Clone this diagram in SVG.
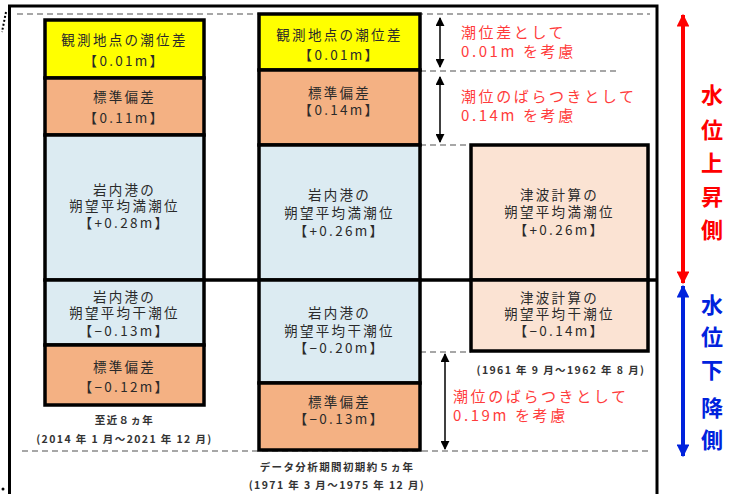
<svg xmlns="http://www.w3.org/2000/svg" width="731" height="494" viewBox="0 0 731 494">
<style>
.box{stroke:#000;stroke-width:3.5}
.y{fill:#ffff00}.o{fill:#f4b183}.b{fill:#dcebf2}.p{fill:#fbe3d3}
.t{font-family:"Noto Sans CJK JP","Noto Sans",sans-serif;font-size:13.5px;letter-spacing:2.3px;fill:#2a2a2a;text-anchor:middle}
.c{font-family:"Noto Sans CJK JP","Noto Sans",sans-serif;font-size:10.5px;letter-spacing:1.4px;fill:#333;text-anchor:middle;font-weight:bold}
.r{font-family:"Noto Sans CJK JP","Noto Sans",sans-serif;font-size:15px;letter-spacing:2.6px;fill:#ff3b3b}
.v{font-family:"Noto Sans CJK JP","Noto Sans",sans-serif;font-size:22px;font-weight:bold;text-anchor:middle}
.d{stroke:#8a8a8a;stroke-width:1.5;stroke-dasharray:6 4;fill:none}
.a{stroke:#000;stroke-width:1.5;fill:none}
</style>
<defs>
<marker id="ah" viewBox="0 0 10 10" refX="9" refY="5" markerWidth="9" markerHeight="9" markerUnits="userSpaceOnUse" orient="auto-start-reverse"><path d="M0,0L10,5L0,10Z" fill="#000"/></marker>
<marker id="ahr" viewBox="0 0 10 10" refX="9" refY="5" markerWidth="3.5" markerHeight="3.2" orient="auto-start-reverse"><path d="M0,0L10,5L0,10Z" fill="#ff0000"/></marker>
<marker id="ahb" viewBox="0 0 10 10" refX="9" refY="5" markerWidth="3.5" markerHeight="3.2" orient="auto-start-reverse"><path d="M0,0L10,5L0,10Z" fill="#0022dd"/></marker>
</defs>
<rect width="731" height="494" fill="#fff"/>
<path d="M6,12 L2,32" stroke="#000" stroke-width="2" stroke-dasharray="2 2" fill="none"/>
<circle cx="3" cy="489" r="1.5" fill="#000"/>
<rect x="9.5" y="6" width="647.5" height="500" fill="none" stroke="#000" stroke-width="3"/>
<g id="connectors">
<line class="d" x1="17" y1="14" x2="650" y2="14"/>
<line class="d" x1="420" y1="71" x2="620" y2="71"/>
<line class="d" x1="420" y1="145" x2="471" y2="145"/>
<line class="d" x1="420" y1="352" x2="471" y2="352"/>
<line class="d" x1="22" y1="451" x2="648" y2="451"/>
<line x1="204" y1="280" x2="657" y2="280" stroke="#000" stroke-width="3.5"/>
<line class="a" x1="440" y1="18" x2="440" y2="67" marker-start="url(#ah)" marker-end="url(#ah)"/>
<line class="a" x1="440" y1="77" x2="440" y2="142" marker-start="url(#ah)" marker-end="url(#ah)"/>
<line class="a" x1="445" y1="354" x2="445" y2="449" marker-start="url(#ah)" marker-end="url(#ah)"/>
<line x1="683" y1="15" x2="683" y2="283" stroke="#ff0000" stroke-width="4" marker-start="url(#ahr)" marker-end="url(#ahr)"/>
<line x1="683" y1="286" x2="683" y2="456" stroke="#0022dd" stroke-width="4" marker-start="url(#ahb)" marker-end="url(#ahb)"/>
</g>
<g id="left-yellow"><rect class="box y" x="45" y="20" width="159" height="58"/>
<text class="t" x="124.5" y="45">観測地点の潮位差</text><text class="t" x="124.5" y="66">【0.01m】</text></g>
<g id="left-sd-top"><rect class="box o" x="45" y="78" width="159" height="57"/>
<text class="t" x="124.5" y="102">標準偏差</text><text class="t" x="124.5" y="123">【0.11m】</text></g>
<g id="left-hwl"><rect class="box b" x="45" y="135" width="159" height="145"/>
<text class="t" x="124.5" y="195">岩内港の</text><text class="t" x="124.5" y="211">朔望平均満潮位</text><text class="t" x="124.5" y="228">【+0.28m】</text></g>
<g id="left-lwl"><rect class="box b" x="45" y="280" width="159" height="65"/>
<text class="t" x="124.5" y="302">岩内港の</text><text class="t" x="124.5" y="318">朔望平均干潮位</text><text class="t" x="124.5" y="336">【−0.13m】</text></g>
<g id="left-sd-bottom"><rect class="box o" x="45" y="345" width="159" height="60"/>
<text class="t" x="124.5" y="372">標準偏差</text><text class="t" x="124.5" y="392">【−0.12m】</text></g>
<g id="left-caption"><text class="c" x="124.5" y="424">至近８ヵ年</text><text class="c" x="124.5" y="443">(2014 年 1 月～2021 年 12 月)</text></g>
<g id="mid-yellow"><rect class="box y" x="259" y="14" width="161" height="56"/>
<text class="t" x="339.5" y="40">観測地点の潮位差</text><text class="t" x="339.5" y="60">【0.01m】</text></g>
<g id="mid-sd-top"><rect class="box o" x="259" y="70" width="161" height="75"/>
<text class="t" x="339.5" y="98">標準偏差</text><text class="t" x="339.5" y="115">【0.14m】</text></g>
<g id="mid-hwl"><rect class="box b" x="259" y="145" width="161" height="135"/>
<text class="t" x="339.5" y="200">岩内港の</text><text class="t" x="339.5" y="218">朔望平均満潮位</text><text class="t" x="339.5" y="236">【+0.26m】</text></g>
<g id="mid-lwl"><rect class="box b" x="259" y="280" width="161" height="103"/>
<text class="t" x="339.5" y="318">岩内港の</text><text class="t" x="339.5" y="336">朔望平均干潮位</text><text class="t" x="339.5" y="353">【−0.20m】</text></g>
<g id="mid-sd-bottom"><rect class="box o" x="259" y="383" width="161" height="67"/>
<text class="t" x="339.5" y="407">標準偏差</text><text class="t" x="339.5" y="424">【−0.13m】</text></g>
<g id="mid-caption"><text class="c" x="337" y="471">データ分析期間初期約５ヵ年</text><text class="c" x="337" y="489">(1971 年 3 月～1975 年 12 月)</text></g>
<g id="right-hwl"><rect class="box p" x="471" y="145" width="177" height="135"/>
<text class="t" x="559.5" y="200">津波計算の</text><text class="t" x="559.5" y="217">朔望平均満潮位</text><text class="t" x="559.5" y="235">【+0.26m】</text></g>
<g id="right-lwl"><rect class="box p" x="471" y="280" width="177" height="71"/>
<text class="t" x="559.5" y="303">津波計算の</text><text class="t" x="559.5" y="319">朔望平均干潮位</text><text class="t" x="559.5" y="336">【−0.14m】</text></g>
<g id="right-caption"><text class="c" x="561" y="374">(1961 年 9 月～1962 年 8 月)</text></g>
<g id="notes">
<text class="r" x="461" y="38">潮位差として</text><text class="r" x="461" y="57">0.01m を考慮</text>
<text class="r" x="461" y="102">潮位のばらつきとして</text><text class="r" x="461" y="121">0.14m を考慮</text>
<text class="r" x="453" y="402">潮位のばらつきとして</text><text class="r" x="453" y="421">0.19m を考慮</text>
</g>
<g id="label-up"><text class="v" x="712" y="103" fill="#ff0000">水</text><text class="v" x="712" y="138" fill="#ff0000">位</text><text class="v" x="712" y="171" fill="#ff0000">上</text><text class="v" x="712" y="205" fill="#ff0000">昇</text><text class="v" x="712" y="238" fill="#ff0000">側</text></g>
<g id="label-down"><text class="v" x="712" y="313" fill="#0022dd">水</text><text class="v" x="712" y="345" fill="#0022dd">位</text><text class="v" x="712" y="378" fill="#0022dd">下</text><text class="v" x="712" y="416" fill="#0022dd">降</text><text class="v" x="712" y="448" fill="#0022dd">側</text></g>
</svg>
